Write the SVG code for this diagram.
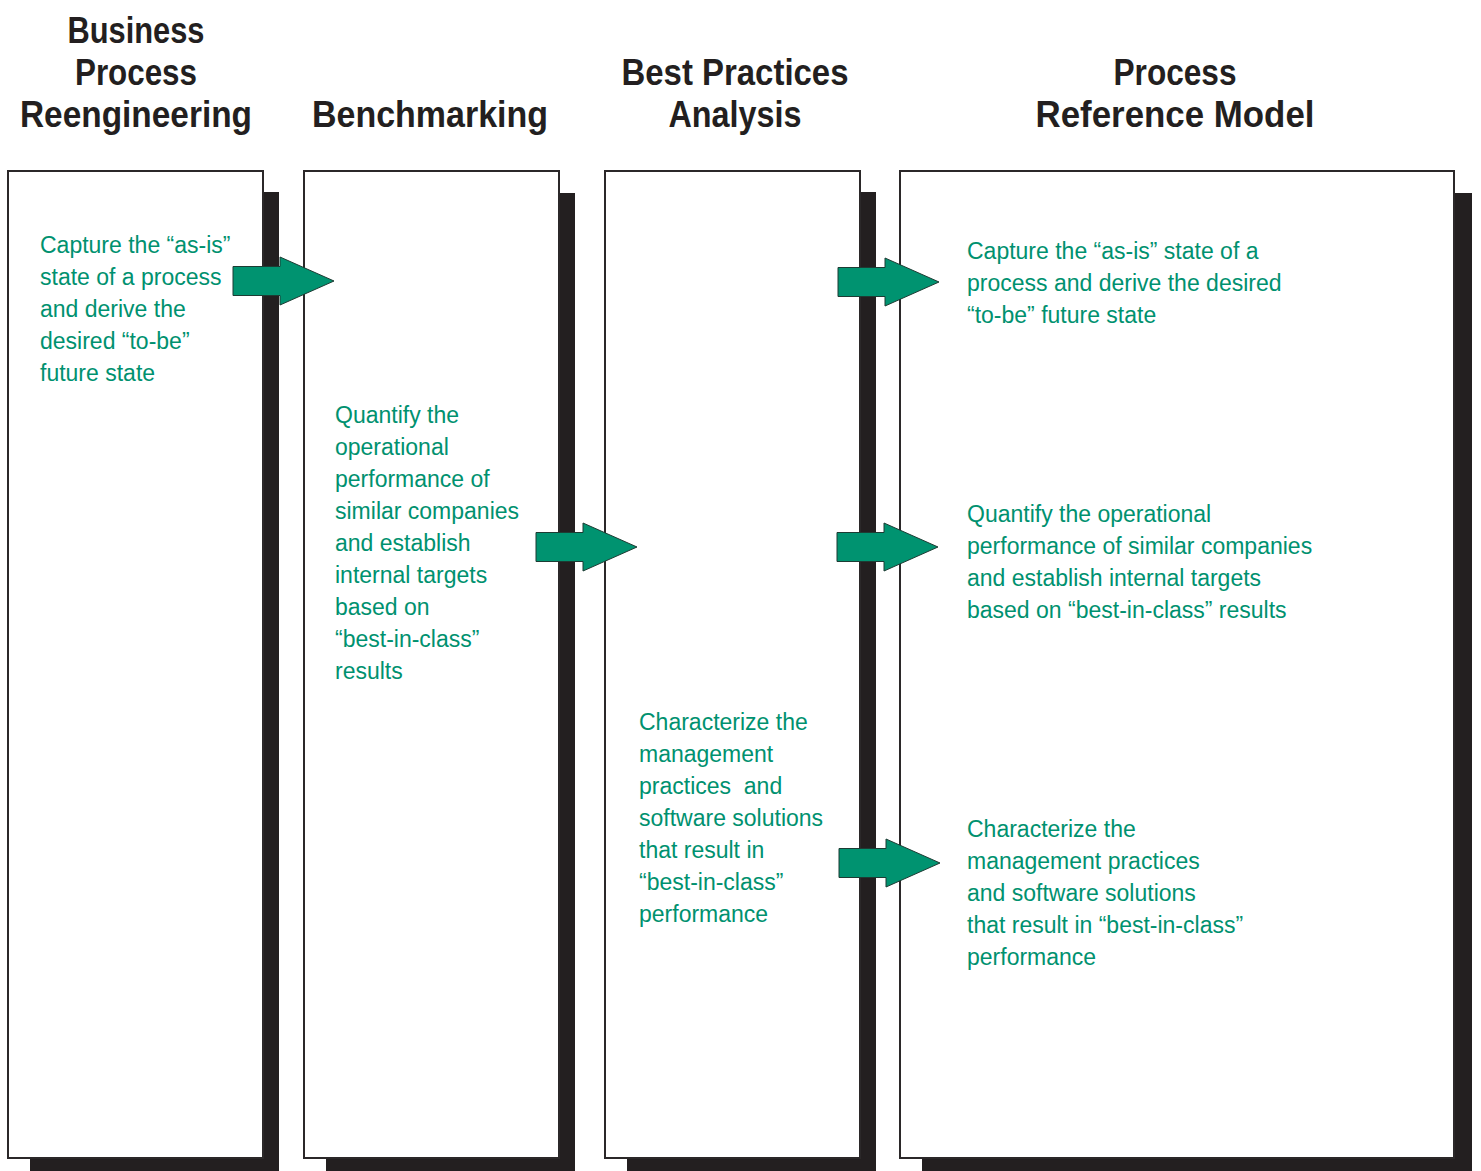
<svg xmlns="http://www.w3.org/2000/svg" xmlns:xlink="http://www.w3.org/1999/xlink" width="1481" height="1171" viewBox="0 0 1481 1171">
<style>
.hd{font-family:"Liberation Sans",Arial,sans-serif;font-weight:bold;font-size:37px;fill:#231f20;text-anchor:middle}
.tx{font-family:"Liberation Sans",Arial,sans-serif;font-size:23px;fill:#00916f}
.box{fill:#ffffff;stroke:#2b2829;stroke-width:2}
.sh{fill:#231f20}
.arr{fill:#009370;stroke:#1d3b33;stroke-width:1}
</style>
<defs>
<path id="arrow" d="M-101,-14.5 H-54 V-24 L0,0 L-54,24 V14.5 H-101 Z"/>
</defs>
<rect width="1481" height="1171" fill="#ffffff"/>

<g id="headers">
<text class="hd" x="136" y="43" textLength="137" lengthAdjust="spacingAndGlyphs">Business</text>
<text class="hd" x="136" y="85" textLength="122" lengthAdjust="spacingAndGlyphs">Process</text>
<text class="hd" x="136" y="127" textLength="232" lengthAdjust="spacingAndGlyphs">Reengineering</text>
<text class="hd" x="430" y="127" textLength="236" lengthAdjust="spacingAndGlyphs">Benchmarking</text>
<text class="hd" x="735" y="85" textLength="227" lengthAdjust="spacingAndGlyphs">Best Practices</text>
<text class="hd" x="735" y="127" textLength="133" lengthAdjust="spacingAndGlyphs">Analysis</text>
<text class="hd" x="1175" y="85" textLength="123" lengthAdjust="spacingAndGlyphs">Process</text>
<text class="hd" x="1175" y="127" textLength="279" lengthAdjust="spacingAndGlyphs">Reference Model</text>
</g>

<g id="node-bpr">
<rect class="sh" x="30" y="192" width="249" height="990"/>
<rect class="box" x="8" y="171" width="255" height="987"/>
<text class="tx" x="40" y="253">Capture the “as-is”</text>
<text class="tx" x="40" y="285">state of a process</text>
<text class="tx" x="40" y="317">and derive the</text>
<text class="tx" x="40" y="349">desired “to-be”</text>
<text class="tx" x="40" y="381">future state</text>
</g>

<g id="node-benchmarking">
<rect class="sh" x="326" y="193" width="249" height="990"/>
<rect class="box" x="304" y="171" width="255" height="987"/>
<text class="tx" x="335" y="423">Quantify the</text>
<text class="tx" x="335" y="455">operational</text>
<text class="tx" x="335" y="487">performance of</text>
<text class="tx" x="335" y="519">similar companies</text>
<text class="tx" x="335" y="551">and establish</text>
<text class="tx" x="335" y="583">internal targets</text>
<text class="tx" x="335" y="615">based on</text>
<text class="tx" x="335" y="647">“best-in-class”</text>
<text class="tx" x="335" y="679">results</text>
</g>

<g id="node-bpa">
<rect class="sh" x="627" y="192" width="249" height="990"/>
<rect class="box" x="605" y="171" width="255" height="987"/>
<text class="tx" x="639" y="730">Characterize the</text>
<text class="tx" x="639" y="762">management</text>
<text class="tx" x="639" y="794">practices&#160; and</text>
<text class="tx" x="639" y="826">software solutions</text>
<text class="tx" x="639" y="858">that result in</text>
<text class="tx" x="639" y="890">“best-in-class”</text>
<text class="tx" x="639" y="922">performance</text>
</g>

<g id="node-prm">
<rect class="sh" x="922" y="193" width="550" height="990"/>
<rect class="box" x="900" y="171" width="554" height="987"/>
<text class="tx" x="967" y="259">Capture the “as-is” state of a</text>
<text class="tx" x="967" y="291">process and derive the desired</text>
<text class="tx" x="967" y="323">“to-be” future state</text>
<text class="tx" x="967" y="522">Quantify the operational</text>
<text class="tx" x="967" y="554">performance of similar companies</text>
<text class="tx" x="967" y="586">and establish internal targets</text>
<text class="tx" x="967" y="618">based on “best-in-class” results</text>
<text class="tx" x="967" y="837">Characterize the</text>
<text class="tx" x="967" y="869">management practices</text>
<text class="tx" x="967" y="901">and software solutions</text>
<text class="tx" x="967" y="933">that result in “best-in-class”</text>
<text class="tx" x="967" y="965">performance</text>
</g>

<g id="connectors">
<use xlink:href="#arrow" class="arr" transform="translate(334,281)"/>
<use xlink:href="#arrow" class="arr" transform="translate(939,282)"/>
<use xlink:href="#arrow" class="arr" transform="translate(637,547)"/>
<use xlink:href="#arrow" class="arr" transform="translate(938,547)"/>
<use xlink:href="#arrow" class="arr" transform="translate(940,863)"/>
</g>
</svg>
